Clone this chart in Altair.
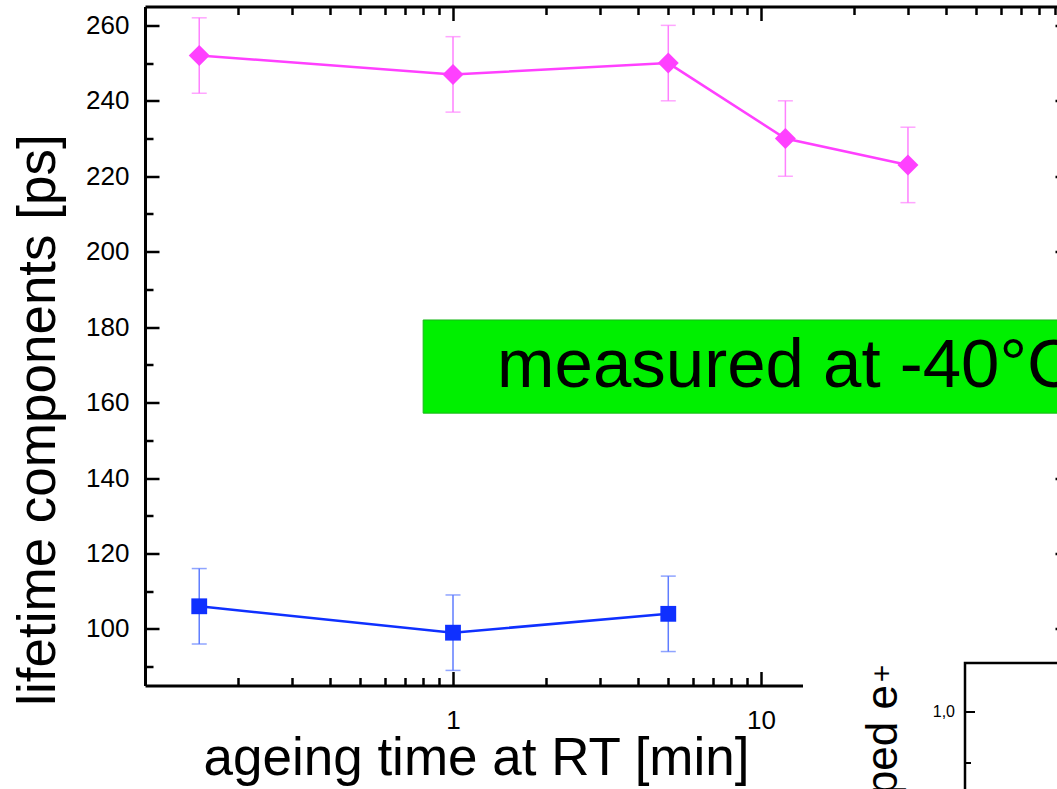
import altair as alt
import pandas as pd

# ageing time at RT [min] and fitted positron lifetime components [ps]
times_long = [0.15, 1, 5, 12, 30]
tau_long = [252, 247, 250, 230, 223]
err_long = [10, 10, 10, 10, 10]

times_short = [0.15, 1, 5]
tau_short = [106, 99, 104]
err_short = [10, 10, 10]

# axis ticks
x_major = [1, 10]
x_minor = [0.2, 0.3, 0.4, 0.5, 0.6, 0.7, 0.8, 0.9,
           2, 3, 4, 5, 6, 7, 8, 9,
           20, 30, 40, 50, 60, 70, 80, 90]
y_major = [100, 120, 140, 160, 180, 200, 220, 240, 260]
y_minor = [90, 110, 130, 150, 170, 190, 210, 230, 250]

# highlighted note
note_text = "measured at -40°C"
note_box_x = [0.8, 100]
note_box_y = [157.2, 181.9]
note_pos = [1.39, 164]

# neighbouring inset panel
inset_label = "1,0"
inset_title = "fraction of trapped e"

PINK = "#ff40ff"
PINK_ERR = "#ff80ff"
BLUE = "#0f30ff"
BLUE_ERR = "#5f7dff"
FONT = "Liberation Sans"

W, H = 924, 679

xs = alt.Scale(type="log", domain=[0.1, 100], nice=False)
ys = alt.Scale(domain=[85, 265], nice=False, zero=False)

long_df = pd.DataFrame({"t": times_long, "v": tau_long, "e": err_long})
long_df["lo"] = long_df["v"] - long_df["e"]
long_df["hi"] = long_df["v"] + long_df["e"]
short_df = pd.DataFrame({"t": times_short, "v": tau_short, "e": err_short})
short_df["lo"] = short_df["v"] - short_df["e"]
short_df["hi"] = short_df["v"] + short_df["e"]

one = pd.DataFrame({"k": [0]})


def axis_layer(xaxis, yaxis):
    return alt.Chart(long_df).mark_point(opacity=0).encode(
        x=alt.X("t:Q", scale=xs, axis=xaxis),
        y=alt.Y("v:Q", scale=ys, axis=yaxis),
    )


common = dict(grid=False, domainColor="black", tickColor="black",
              labelColor="black", title=None)

ax_labels = axis_layer(
    alt.Axis(orient="bottom", values=x_major, ticks=False, domain=True,
             domainWidth=3, domainColor="black", labelFont=FONT,
             labelFontSize=26, labelColor="black", labelPadding=22,
             format="~g", labelFlush=False, labelOverlap=False, grid=False,
             title="ageing time at RT [min]", titleFont=FONT,
             titleFontSize=53, titleFontWeight="normal", titleColor="black",
             titleX=331, titleY=88.5, titleAlign="center",
             titleBaseline="alphabetic"),
    alt.Axis(orient="left", values=y_major, ticks=False, domain=True,
             domainWidth=3, domainColor="black", labelFont=FONT,
             labelFontSize=26, labelColor="black", labelPadding=16,
             labelOverlap=False, grid=False,
             title="lifetime components [ps]", titleFont=FONT,
             titleFontSize=53, titleFontWeight="normal", titleColor="black",
             titleAngle=270, titleX=-91, titleY=413, titleAlign="center",
             titleBaseline="alphabetic"),
)


def tick_axis(orient, values, size, domain=False):
    return alt.Axis(orient=orient, values=values, ticks=True, labels=False,
                    domain=domain, domainWidth=3,
                    tickSize=alt.ExprRef(expr=str(-size)), tickWidth=2.5,
                    **common)


ax_major_bl = axis_layer(tick_axis("bottom", x_major, 14),
                         tick_axis("left", y_major, 14))
ax_minor_bl = axis_layer(tick_axis("bottom", x_minor, 8),
                         tick_axis("left", y_minor, 8))
ax_major_tr = axis_layer(tick_axis("top", x_major, 14, domain=True),
                         tick_axis("right", y_major, 14, domain=True))
ax_minor_tr = axis_layer(tick_axis("top", x_minor, 8),
                         tick_axis("right", y_minor, 8))

# green note box and its text
box_df = pd.DataFrame({"x0": [note_box_x[0]], "x1": [note_box_x[1]],
                       "y0": [note_box_y[0]], "y1": [note_box_y[1]]})
note_box = alt.Chart(box_df).mark_rect(
    color="#00f000", stroke="#19b819", strokeWidth=1
).encode(
    x=alt.X("x0:Q", scale=xs, axis=None), x2="x1:Q",
    y=alt.Y("y0:Q", scale=ys, axis=None), y2="y1:Q",
)
note_df = pd.DataFrame({"x": [note_pos[0]], "y": [note_pos[1]],
                        "s": [note_text]})
note = alt.Chart(note_df).mark_text(
    font=FONT, fontSize=69, align="left", baseline="alphabetic", color="black"
).encode(
    x=alt.X("x:Q", scale=xs, axis=None),
    y=alt.Y("y:Q", scale=ys, axis=None),
    text="s:N",
)


def series(df, color, err_color, shape, size, line_w, err_w):
    enc_x = alt.X("t:Q", scale=xs, axis=None)
    bars = alt.Chart(df).mark_rule(color=err_color, strokeWidth=err_w).encode(
        x=enc_x, y=alt.Y("lo:Q", scale=ys, axis=None), y2="hi:Q")
    cap_lo = alt.Chart(df).mark_tick(
        color=err_color, orient="horizontal", size=15, thickness=err_w
    ).encode(x=enc_x, y=alt.Y("lo:Q", scale=ys, axis=None))
    cap_hi = alt.Chart(df).mark_tick(
        color=err_color, orient="horizontal", size=15, thickness=err_w
    ).encode(x=enc_x, y=alt.Y("hi:Q", scale=ys, axis=None))
    line = alt.Chart(df).mark_line(color=color, strokeWidth=line_w).encode(
        x=enc_x, y=alt.Y("v:Q", scale=ys, axis=None))
    pts = alt.Chart(df).mark_point(
        shape=shape, size=size, filled=True, color=color, opacity=1
    ).encode(x=enc_x, y=alt.Y("v:Q", scale=ys, axis=None))
    return [bars, cap_lo, cap_hi, line, pts]


long_layers = series(long_df, PINK, PINK_ERR, "diamond", 440, 2.5, 1.5)
short_layers = series(short_df, BLUE, BLUE_ERR, "square", 250, 2.5, 1.5)

# neighbouring inset panel, partly covering the lower right corner
cover = alt.Chart(one).mark_rect(color="white").encode(
    x=alt.value(658), x2=alt.value(960), y=alt.value(653.5), y2=alt.value(860))
inset_frame = alt.Chart(one).mark_rect(
    fill="white", stroke="black", strokeWidth=2.5
).encode(x=alt.value(820), x2=alt.value(990), y=alt.value(656.5),
         y2=alt.value(900))
inset_major = alt.Chart(one).mark_rule(color="black", strokeWidth=2).encode(
    x=alt.value(820), x2=alt.value(830), y=alt.value(705.5))
inset_minor = alt.Chart(one).mark_rule(color="black", strokeWidth=2).encode(
    x=alt.value(820), x2=alt.value(826), y=alt.value(756.5))
inset_tick_label = alt.Chart(one).mark_text(
    text=inset_label, font=FONT, fontSize=16, align="right",
    baseline="middle", color="black"
).encode(x=alt.value(810), y=alt.value(705.5))
inset_ylabel = alt.Chart(one).mark_text(
    text=inset_title, font=FONT, fontSize=44, align="right",
    baseline="alphabetic", angle=270, color="black"
).encode(x=alt.value(752), y=alt.value(678.5))
inset_sup = alt.Chart(one).mark_text(
    text="+", font=FONT, fontSize=30, align="center",
    baseline="middle", angle=270, color="black"
).encode(x=alt.value(738), y=alt.value(667))

chart = alt.layer(
    ax_labels, ax_major_bl, ax_minor_bl, ax_major_tr, ax_minor_tr,
    note_box, note,
    *long_layers, *short_layers,
    cover, inset_frame, inset_major, inset_minor, inset_tick_label,
    inset_ylabel, inset_sup,
).resolve_axis(
    x="independent", y="independent"
).properties(
    width=W, height=H,
    autosize=alt.AutoSizeParams(type="none"),
    padding={"left": 145, "top": 6.5, "right": -12, "bottom": 103.5},
    background="white",
).configure_view(strokeWidth=0)

chart.save("out.html", embed_options={"renderer": "svg", "actions": False})
